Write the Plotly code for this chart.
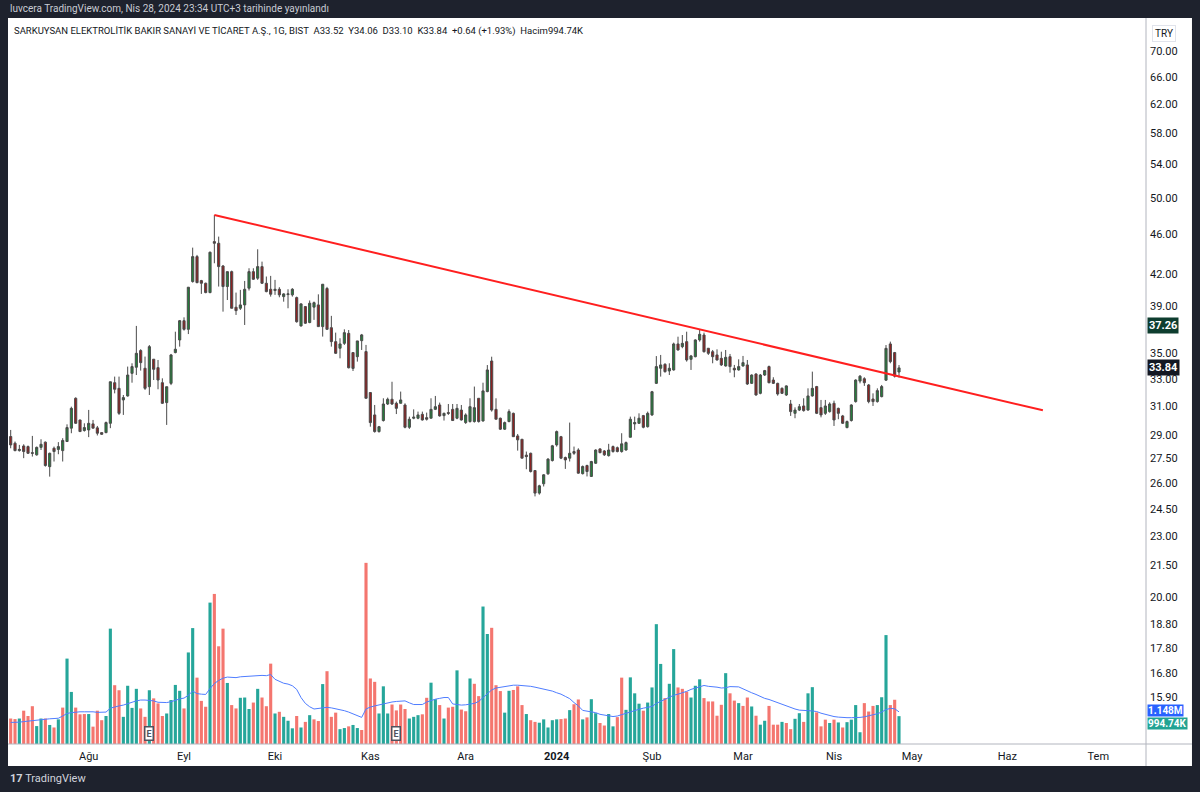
import math
import plotly.graph_objects as go

# daily candles, SARKY (BIST), from 6 Jul 2023 to 26 Apr 2024 (one entry per trading day)
opens = [
    28.91, 28.47, 27.99, 28.29, 28.25, 27.86, 27.72, 28.20, 28.54, 26.98,
    28.14, 28.07, 27.99, 28.58, 29.47, 31.56, 30.03, 29.31, 29.35, 29.76,
    29.49, 29.17, 29.17, 29.80, 32.71, 32.29, 31.44, 31.73, 33.42, 33.89,
    35.21, 33.81, 32.41, 34.52, 33.86, 32.71, 31.25, 32.66, 35.05, 36.08,
    37.71, 36.97, 41.25, 43.68, 41.34, 41.09, 40.22, 45.21, 45.04, 42.75,
    40.78, 42.20, 38.89, 38.80, 39.10, 40.63, 42.20, 41.57, 42.69, 41.09,
    40.53, 40.41, 40.53, 39.85, 40.04, 40.01, 39.76, 37.26, 38.95, 37.55,
    38.90, 39.10, 37.20, 40.60, 37.11, 35.94, 35.40, 35.80, 36.63, 35.05,
    34.72, 36.02, 35.13, 31.98, 30.38, 29.24, 29.99, 31.15, 31.49, 31.20,
    31.20, 31.08, 29.53, 30.15, 30.15, 30.42, 30.19, 30.15, 30.77, 31.08,
    30.33, 30.54, 30.77, 30.15, 30.72, 29.85, 29.92, 29.92, 31.56, 29.96,
    32.05, 34.38, 30.77, 30.15, 29.40, 29.92, 30.49, 28.95, 28.73, 27.70,
    27.82, 26.74, 25.39, 25.94, 26.54, 27.36, 28.36, 28.90, 27.55, 27.51,
    27.93, 28.03, 26.55, 27.05, 26.38, 27.19, 28.10, 27.97, 27.67, 28.25,
    28.18, 27.93, 28.03, 28.86, 29.76, 29.80, 30.33, 29.57, 30.38, 32.66,
    33.81, 34.12, 33.60, 33.68, 35.75, 35.53, 35.94, 34.51, 34.72, 36.08,
    36.49, 35.40, 35.12, 34.86, 34.59, 33.99, 34.72, 33.81, 33.68, 33.99,
    34.07, 32.66, 33.37, 31.92, 33.29, 33.94, 32.91, 32.66, 32.29, 31.80,
    31.15, 30.49, 30.72, 31.01, 30.72, 31.73, 32.42, 30.89, 30.49, 30.61,
    31.20, 30.84, 30.31, 29.51, 29.99, 31.32, 32.83, 33.01, 32.54, 31.51,
    31.32, 31.68, 32.90, 35.75, 35.05, 33.52,
]
highs = [
    29.35, 28.58, 28.36, 28.40, 28.32, 28.95, 28.25, 28.73, 28.58, 27.86,
    28.25, 28.54, 28.80, 29.73, 30.96, 31.63, 30.03, 29.80, 30.73, 30.03,
    29.62, 29.17, 29.92, 32.78, 33.17, 33.17, 31.80, 33.94, 34.20, 37.26,
    35.32, 34.73, 35.66, 34.52, 34.46, 33.04, 32.41, 34.94, 36.77, 37.77,
    38.00, 40.72, 44.59, 43.85, 41.41, 41.15, 44.19, 48.06, 45.73, 42.85,
    42.20, 42.30, 40.22, 40.47, 41.31, 42.53, 42.53, 44.42, 43.18, 41.73,
    41.79, 41.41, 40.72, 40.16, 40.53, 40.63, 39.85, 39.25, 39.00, 39.50,
    39.40, 40.06, 41.00, 40.75, 38.13, 36.69, 36.22, 36.97, 36.91, 35.05,
    36.00, 36.58, 35.67, 31.98, 31.08, 29.62, 31.56, 31.61, 32.78, 31.32,
    32.05, 31.20, 30.26, 30.77, 30.61, 30.61, 30.54, 31.56, 31.73, 31.25,
    30.54, 31.15, 31.15, 31.15, 31.08, 30.49, 31.56, 32.42, 31.56, 32.71,
    34.06, 34.72, 31.56, 30.19, 29.92, 30.77, 30.54, 29.08, 28.73, 27.93,
    27.86, 26.74, 25.88, 26.52, 27.51, 28.36, 29.31, 28.95, 27.61, 29.85,
    28.25, 28.14, 27.05, 27.10, 27.34, 28.07, 28.14, 28.03, 28.43, 28.32,
    28.25, 29.13, 28.58, 30.26, 30.26, 30.49, 30.38, 30.61, 32.10, 34.77,
    34.86, 34.20, 34.20, 35.86, 36.35, 36.49, 36.77, 34.86, 36.13, 36.97,
    36.69, 35.40, 35.26, 35.31, 35.12, 35.26, 34.94, 34.07, 34.51, 34.78,
    34.46, 33.34, 33.42, 33.37, 33.68, 34.02, 33.12, 32.71, 32.36, 32.51,
    31.44, 30.91, 31.15, 31.56, 32.29, 33.55, 32.47, 31.44, 31.44, 31.27,
    31.39, 30.89, 30.38, 29.99, 31.13, 32.96, 33.29, 33.12, 32.61, 31.92,
    32.29, 32.54, 35.66, 35.94, 35.10, 34.06,
]
lows = [
    28.14, 27.95, 27.93, 27.51, 27.78, 27.61, 27.67, 28.03, 26.98, 26.37,
    27.30, 27.76, 27.30, 28.58, 29.13, 29.76, 29.24, 29.24, 28.87, 29.47,
    28.98, 29.02, 29.13, 29.47, 31.92, 30.38, 30.38, 31.68, 32.71, 33.29,
    33.63, 32.17, 31.80, 32.91, 32.22, 31.15, 29.69, 32.53, 34.99, 35.53,
    36.86, 36.57, 41.15, 41.09, 40.10, 40.16, 40.16, 43.02, 40.78, 38.50,
    39.54, 38.80, 38.21, 38.65, 37.34, 40.41, 41.41, 41.41, 41.03, 40.25,
    39.85, 40.01, 39.79, 39.39, 38.80, 39.85, 37.54, 37.20, 37.43, 37.49,
    37.78, 37.20, 36.36, 36.91, 35.53, 34.94, 34.59, 35.67, 33.80, 33.60,
    34.33, 35.26, 31.56, 29.57, 29.17, 29.17, 29.92, 31.08, 31.08, 30.44,
    31.20, 29.46, 29.42, 30.08, 30.08, 29.99, 29.99, 30.15, 30.72, 30.26,
    29.99, 30.38, 29.99, 30.08, 29.99, 29.76, 29.85, 29.85, 29.85, 29.92,
    32.00, 30.61, 30.08, 29.35, 29.35, 29.87, 28.90, 27.99, 27.51, 26.82,
    26.62, 25.20, 25.30, 25.78, 26.48, 27.30, 28.25, 27.45, 26.84, 27.30,
    27.72, 26.55, 26.50, 26.38, 26.35, 27.15, 27.82, 27.65, 27.61, 27.86,
    27.88, 27.86, 27.99, 28.86, 29.35, 29.76, 29.46, 29.51, 30.31, 32.61,
    33.17, 33.47, 33.29, 33.63, 35.21, 35.40, 34.33, 33.68, 34.67, 35.94,
    35.05, 34.86, 34.20, 34.41, 33.99, 33.94, 33.47, 33.12, 33.63, 33.94,
    32.54, 32.61, 31.75, 31.85, 33.22, 32.66, 32.61, 31.75, 31.87, 31.73,
    30.31, 30.15, 30.65, 30.61, 30.68, 31.68, 30.44, 30.21, 30.38, 30.54,
    29.62, 30.08, 29.76, 29.46, 29.92, 31.25, 32.66, 32.47, 31.20, 31.01,
    31.25, 31.63, 32.85, 34.20, 33.10, 33.10,
]
closes = [
    28.36, 27.99, 28.07, 27.93, 27.82, 27.82, 28.20, 28.40, 27.05, 27.82,
    27.93, 28.25, 28.65, 29.51, 30.84, 29.80, 29.24, 29.51, 29.80, 29.47,
    29.13, 29.06, 29.85, 32.78, 32.22, 30.49, 31.61, 33.29, 33.94, 34.99,
    34.25, 32.29, 35.53, 33.73, 32.91, 31.20, 32.41, 34.86, 35.32, 37.71,
    36.97, 40.72, 43.68, 41.15, 41.09, 40.22, 44.12, 45.04, 42.69, 40.78,
    42.20, 38.80, 38.59, 39.10, 40.53, 42.20, 41.47, 42.69, 41.09, 40.31,
    40.07, 40.53, 40.01, 40.10, 40.10, 40.53, 37.62, 39.19, 37.49, 39.25,
    39.30, 37.20, 41.00, 36.97, 35.94, 34.99, 35.75, 36.69, 33.85, 33.80,
    36.00, 36.50, 31.56, 29.85, 29.24, 29.57, 31.15, 31.49, 31.15, 30.84,
    31.44, 29.53, 30.08, 30.22, 30.38, 30.03, 30.08, 30.77, 30.96, 30.31,
    30.49, 30.49, 29.99, 30.84, 30.03, 30.38, 30.96, 30.89, 29.92, 32.10,
    33.68, 30.72, 30.08, 29.40, 29.85, 30.61, 28.90, 28.69, 27.51, 27.61,
    26.68, 25.39, 25.82, 26.48, 27.45, 28.30, 29.24, 27.51, 27.40, 27.82,
    27.82, 26.58, 26.99, 26.68, 27.30, 28.03, 27.86, 27.72, 28.03, 27.93,
    27.93, 28.43, 28.51, 30.08, 29.85, 30.15, 29.53, 30.49, 32.04, 33.94,
    34.07, 33.55, 33.81, 35.75, 35.26, 35.80, 34.46, 34.78, 36.08, 36.55,
    35.12, 34.99, 34.72, 34.46, 34.07, 34.67, 33.94, 33.68, 33.94, 34.25,
    32.61, 33.29, 31.80, 33.29, 33.63, 32.71, 32.66, 31.87, 31.92, 32.47,
    30.61, 30.72, 30.96, 30.68, 31.73, 32.29, 30.49, 30.38, 31.01, 31.15,
    30.03, 30.49, 29.80, 29.92, 31.08, 32.91, 33.20, 32.71, 31.32, 31.32,
    32.12, 32.42, 35.39, 34.33, 33.20, 33.84,
]
# volume in millions of shares, and bar colour as drawn (u = teal, d = red)
volume_m = [
    0.91, 0.89, 0.91, 1.19, 1.00, 1.35, 0.64, 0.91, 0.91, 0.68,
    0.59, 0.88, 1.30, 3.05, 1.86, 1.30, 1.06, 1.07, 1.07, 0.62,
    1.19, 0.85, 1.00, 4.12, 2.10, 1.92, 0.97, 2.08, 1.29, 1.97,
    1.27, 0.97, 1.92, 1.63, 1.45, 1.00, 1.09, 1.57, 2.11, 1.90,
    1.27, 3.27, 4.14, 2.37, 1.54, 1.33, 5.05, 5.36, 3.49, 4.12,
    2.18, 1.39, 1.27, 1.65, 1.66, 1.25, 1.48, 1.97, 1.66, 1.35,
    2.87, 1.09, 1.15, 0.97, 0.83, 0.56, 1.00, 0.59, 0.79, 1.03,
    0.88, 0.82, 2.14, 2.60, 0.97, 1.12, 0.53, 0.57, 0.63, 0.68,
    0.57, 0.50, 6.47, 2.34, 2.22, 1.09, 2.06, 1.09, 1.41, 1.20,
    1.41, 1.25, 0.91, 0.97, 1.03, 1.06, 1.65, 2.19, 1.60, 1.39,
    0.91, 1.30, 1.33, 2.63, 1.23, 1.17, 2.34, 2.15, 1.71, 4.91,
    3.93, 4.15, 2.10, 1.89, 1.12, 1.90, 1.93, 2.06, 1.39, 1.07,
    0.85, 0.79, 0.76, 0.88, 0.59, 0.85, 0.88, 0.89, 0.91, 1.21,
    1.42, 1.59, 0.88, 0.95, 1.60, 1.10, 0.75, 0.66, 1.07, 0.63,
    0.96, 2.37, 1.22, 2.38, 1.81, 1.44, 1.19, 1.48, 2.02, 4.28,
    2.86, 1.64, 2.15, 3.39, 2.02, 1.97, 1.87, 1.66, 2.08, 2.31,
    1.64, 1.52, 1.52, 1.01, 1.40, 2.53, 1.81, 1.55, 1.46, 1.36,
    1.66, 1.34, 1.01, 0.69, 0.83, 1.36, 0.69, 0.69, 0.79, 0.75,
    0.53, 0.90, 1.10, 0.79, 1.81, 2.03, 1.13, 0.63, 0.87, 0.75,
    0.87, 0.77, 0.59, 0.78, 0.87, 1.39, 0.42, 1.46, 1.16, 1.36,
    1.39, 1.67, 3.89, 1.39, 1.58, 0.99474,
]
volume_dir = (
    "ddudddu udu"
    "dudu uddd ud"
    "dduuddu uuu"
    "ddudddu uuu"
    "duudddu ddd"
    "uddu uudud d"
    "dudu uudu du"
    "ddudddu udu"
    "udddduuu dd"
    "dduuuddu ud"
    "uddudduddu"
    "udddu udddu"
    "dduu uuuddu"
    "ddudu udd uu"
    "dduuuudu uu"
    "udu uddd uuu"
    "dddddu ddud"
    "dudu udddud"
    "duuduuddd u"
    "dudu uuuddd"
    "uuudd u"
).replace(" ", "")
# 20-day volume moving average as drawn, millions
volume_ma_m = [
    0.77, 0.77, 0.78, 0.80, 0.82, 0.83, 0.84, 0.86, 0.88, 0.90,
    0.91, 0.92, 1.00, 1.09, 1.12, 1.14, 1.15, 1.15, 1.16, 1.15,
    1.13, 1.13, 1.14, 1.28, 1.33, 1.36, 1.39, 1.43, 1.49, 1.54,
    1.57, 1.57, 1.56, 1.54, 1.49, 1.48, 1.48, 1.51, 1.57, 1.61,
    1.64, 1.74, 1.89, 1.80, 1.78, 1.77, 1.98, 2.16, 2.27, 2.35,
    2.39, 2.38, 2.37, 2.40, 2.41, 2.42, 2.44, 2.45, 2.45, 2.44,
    2.48, 2.31, 2.25, 2.17, 2.14, 2.08, 1.95, 1.66, 1.45, 1.33,
    1.25, 1.27, 1.30, 1.31, 1.29, 1.26, 1.22, 1.19, 1.14, 1.07,
    1.00, 0.95, 1.25, 1.32, 1.36, 1.40, 1.44, 1.47, 1.50, 1.52,
    1.53, 1.54, 1.47, 1.41, 1.41, 1.41, 1.50, 1.56, 1.60, 1.63,
    1.66, 1.66, 1.43, 1.41, 1.39, 1.40, 1.42, 1.45, 1.52, 1.65,
    1.81, 1.93, 2.00, 2.03, 2.06, 2.09, 2.10, 2.10, 2.09, 2.08,
    2.06, 2.03, 2.00, 1.96, 1.92, 1.89, 1.83, 1.78, 1.70, 1.62,
    1.48, 1.36, 1.20, 1.17, 1.16, 1.12, 1.06, 1.03, 1.00, 0.98,
    1.00, 1.05, 1.09, 1.16, 1.21, 1.24, 1.28, 1.31, 1.34, 1.45,
    1.52, 1.59, 1.65, 1.74, 1.78, 1.82, 1.88, 1.95, 2.00, 2.06,
    2.09, 2.06, 2.05, 2.03, 2.00, 2.01, 2.05, 2.05, 2.04, 1.97,
    1.89, 1.83, 1.77, 1.70, 1.63, 1.59, 1.53, 1.47, 1.42, 1.37,
    1.31, 1.25, 1.21, 1.19, 1.19, 1.18, 1.16, 1.10, 1.06, 1.01,
    0.98, 0.96, 0.94, 0.94, 0.94, 0.94, 0.95, 0.97, 1.00, 1.04,
    1.08, 1.14, 1.23, 1.27, 1.26, 1.148,
]

# time axis: bar index of the first session of each month (future months on weekday grid)
month_ticks = [18, 40, 61, 83, 105, 126, 148, 169, 190, 208, 230, 251]
month_labels = ["Ağu", "Eyl", "Eki", "Kas", "Ara", "<b>2024</b>", "Şub", "Mar", "Nis", "May", "Haz", "Tem"]
price_ticks = [70, 66, 62, 58, 54, 50, 46, 42, 39, 35, 33, 31, 29, 27.5, 26, 24.5,
               23, 21.5, 20, 18.8, 17.8, 16.8, 15.9]

# drawings on the chart
trend_x = [47, 238.2]
trend_y = [48.06, 30.7]
resistance = 37.26
earnings_idx = [32, 89]

FONT = "Roboto, 'Open Sans', sans-serif"
INK = "#131722"
FRAME = "#1e222d"
x_idx = list(range(len(opens)))

fig = go.Figure()

fig.add_trace(go.Bar(
    x=x_idx, y=volume_m, yaxis="y2", width=0.72,
    marker_color=["#26a69a" if d == "u" else "#f4766f" for d in volume_dir],
    marker_line_width=0, hoverinfo="skip",
))
fig.add_trace(go.Scatter(
    x=x_idx, y=volume_ma_m, yaxis="y2", mode="lines",
    line=dict(color="#4f7dff", width=1), hoverinfo="skip",
))
fig.add_trace(go.Candlestick(
    x=x_idx, open=opens, high=highs, low=lows, close=closes,
    increasing=dict(fillcolor="#23803b", line=dict(color="#4a4a4a", width=1)),
    decreasing=dict(fillcolor="#921f1f", line=dict(color="#4a4a4a", width=1)),
    whiskerwidth=0, hoverinfo="skip",
))
fig.add_trace(go.Scatter(
    x=trend_x, y=trend_y, mode="lines",
    line=dict(color="#ff1f1f", width=2), hoverinfo="skip",
))

# horizontal levels (log axis: shapes take log10 values)
levels = [
    (max(highs), "#9598a1", "dot", 1),
    (min(lows), "#9598a1", "dot", 1),
    (resistance, "#7d978c", "dash", 2),
    (closes[-1], "#3a3d45", "dot", 1),
]
for val, col, dash, w in levels:
    fig.add_shape(type="line", xref="paper", x0=0, x1=1, yref="y",
                  y0=math.log10(val), y1=math.log10(val),
                  line=dict(color=col, dash=dash, width=w))

# white chart pane, price-scale separator, time-scale separator
fig.add_shape(type="rect", xref="paper", yref="paper", x0=0, x1=1.0404, y0=-0.0303, y1=1,
              fillcolor="white", line_width=0, layer="below")
fig.add_shape(type="line", xref="paper", yref="paper", x0=1, x1=1, y0=-0.0303, y1=1,
              line=dict(color="#b2b5be", width=1))
fig.add_shape(type="line", xref="paper", yref="paper", x0=0, x1=1.0404, y0=0, y1=0,
              line=dict(color="#b2b5be", width=1))

# price scale tags
tags = [
    (math.log10(resistance), "y", f"<b>{resistance:.2f}</b>", "#0e3d2f", 11, 1),
    (math.log10(closes[-1]), "y", f"<b>{closes[-1]:.2f}</b>", "#131722", 11, 1),
    (0.0468, "paper", f"<b>{volume_ma_m[-1]:.3f}M</b>", "#2962ff", 10, 0),
    (0.0289, "paper", f"<b>{volume_m[-1] * 1000:.2f}K</b>", "#22a393", 10, 0),
]
for yv, yref, txt, bg, fs, pad in tags:
    fig.add_annotation(x=1, xref="paper", y=yv, yref=yref, text=txt,
                       showarrow=False, xanchor="left", yanchor="middle", xshift=1, bgcolor=bg,
                       font=dict(family=FONT, size=fs, color="white"), borderpad=pad)

fig.add_annotation(x=1.016, xref="paper", y=0.978, yref="paper", text="TRY", showarrow=False,
                   xanchor="center", yanchor="middle",
                   bordercolor="#e0e3eb", borderwidth=1, borderpad=2, bgcolor="white",
                   font=dict(family=FONT, size=10, color=INK))

for idx in earnings_idx:
    fig.add_annotation(x=idx, y=0.0138, yref="paper", text="<b>E</b>", showarrow=False,
                       yanchor="middle",
                       bordercolor="#50535e", borderwidth=1.5, borderpad=1, bgcolor="white",
                       font=dict(family=FONT, size=9, color="#50535e"))

last = len(closes) - 1
chg = closes[last] - closes[last - 1]
legend = (
    "SARKUYSAN ELEKTROLİTİK BAKIR SANAYİ VE TİCARET A.Ş., 1G, BIST"
    f"\u00a0\u00a0A{opens[last]:.2f}\u00a0\u00a0Y{highs[last]:.2f}\u00a0\u00a0D{lows[last]:.2f}"
    f"\u00a0\u00a0K{closes[last]:.2f}\u00a0\u00a0+{chg:.2f} (+{chg / closes[last - 1] * 100:.2f}%)"
    f"\u00a0\u00a0Hacim{volume_m[last] * 1000:.2f}K"
)
fig.add_annotation(x=0.0035, y=0.982, xref="paper", yref="paper", text=legend, showarrow=False,
                   xanchor="left", yanchor="middle", font=dict(family=FONT, size=9.5, color=INK))
fig.add_annotation(x=0, y=1.0124, xref="paper", yref="paper",
                   text="luvcera TradingView.com, Nis 28, 2024 23:34 UTC+3 tarihinde yayınlandı",
                   showarrow=False, xanchor="left", yanchor="middle",
                   font=dict(family=FONT, size=10, color="#c9ccd4"))
fig.add_annotation(x=0.0, y=-0.0482, xref="paper", yref="paper",
                   text="<b>17</b> TradingView", showarrow=False, xanchor="left", yanchor="middle",
                   font=dict(family=FONT, size=11, color="#d1d4dc"))

fig.update_layout(
    width=1200, height=792,
    margin=dict(l=8, r=54, t=18, b=48),
    paper_bgcolor=FRAME, plot_bgcolor="white",
    showlegend=False,
    font=dict(family=FONT, color=INK),
    xaxis=dict(range=[-0.62, 262.0], tickvals=month_ticks, ticktext=month_labels,
               showgrid=False, zeroline=False, showline=False, ticks="", ticklabelstandoff=4,
               rangeslider=dict(visible=False), tickfont=dict(size=11, color=INK)),
    yaxis=dict(type="log", range=[math.log10(14.28), math.log10(75.51)], side="right",
               tickvals=price_ticks, ticktext=[f"{v:.2f}" for v in price_ticks],
               showgrid=False, zeroline=False, showline=False, ticks="", ticklabelstandoff=3,
               tickfont=dict(size=11, color=INK)),
    yaxis2=dict(overlaying="y", range=[0, 25.93], visible=False),
)

# the page body's default 8px margin would shift the figure; pin it to the corner
fig.write_html(
    "out.html",
    config={"displayModeBar": False},
    post_script=f"document.body.style.margin='0';document.body.style.background='{FRAME}';",
)
